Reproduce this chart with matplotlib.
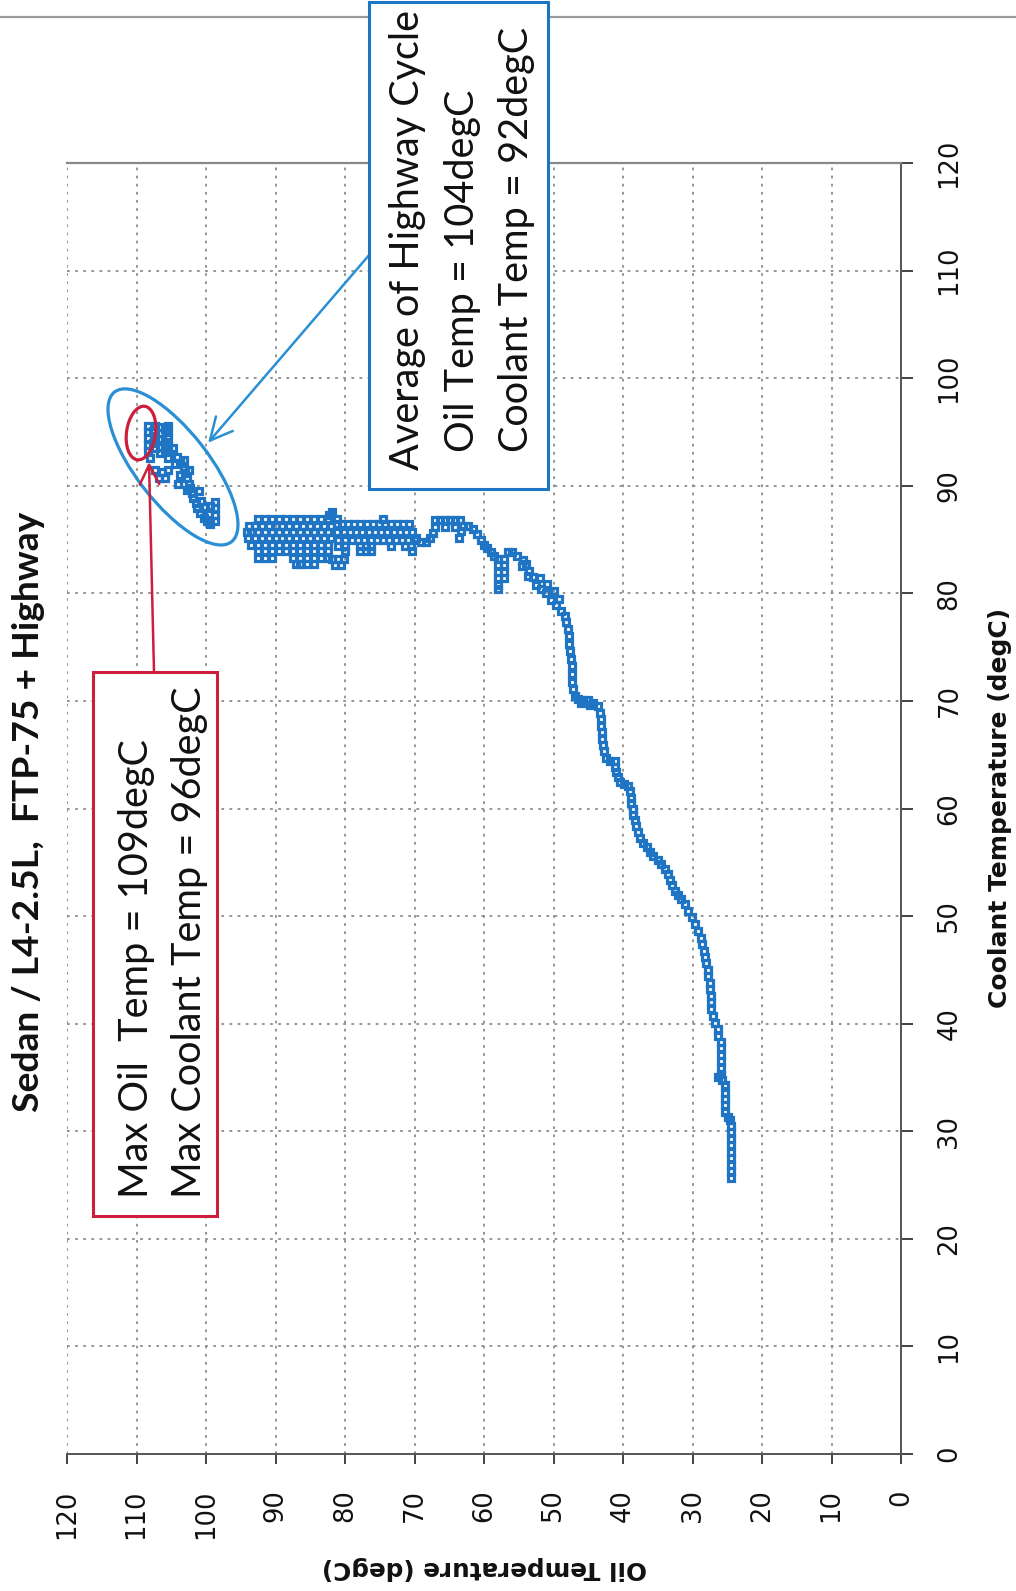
import matplotlib
matplotlib.use("Agg")
import matplotlib.pyplot as plt
from matplotlib.lines import Line2D
from matplotlib.patches import Ellipse, Rectangle
from matplotlib.transforms import ScaledTranslation

W, H, DPI = 1016, 1591, 100

TITLE = "Sedan / L4-2.5L,  FTP-75 + Highway"
X_LABEL = "Oil Temperature (degC)"
Y_LABEL = "Coolant Temperature (degC)"
TICKS = [0, 10, 20, 30, 40, 50, 60, 70, 80, 90, 100, 110, 120]

AVG_LINES = ["Average of Highway Cycle", "Oil Temp = 104degC", "Coolant Temp = 92degC"]
MAX_LINES = ["Max Oil  Temp = 109degC", "Max Coolant Temp = 96degC"]

# (oil, coolant) samples, degC
warmup_pts = [
    (24.4, 25.7), (24.4, 26.3), (24.4, 26.9), (24.4, 27.5), (24.4, 28.1), (24.4, 28.7),
    (24.4, 29.3), (24.4, 29.9), (24.4, 30.5), (24.6, 31.0), (24.9, 31.3), (25.3, 31.8),
    (25.3, 32.4), (25.3, 33.0), (25.3, 33.6), (25.3, 34.3), (25.8, 34.8), (26.3, 35.0),
    (25.9, 35.3), (25.9, 35.9), (25.9, 36.5), (25.9, 37.1), (25.9, 37.7), (25.9, 38.3),
    (26.3, 38.9), (26.3, 39.5), (26.8, 40.1), (27.0, 40.7), (27.3, 41.4), (27.4, 42.0),
    (27.4, 42.6), (27.5, 43.2), (27.5, 43.8), (27.7, 44.4), (27.8, 45.0), (28.0, 45.6),
    (28.2, 46.2), (28.4, 46.8), (28.6, 47.4), (28.8, 48.0), (29.2, 48.6), (29.7, 49.3),
    (30.1, 49.9), (30.6, 50.5), (31.1, 51.1), (31.6, 51.6), (32.1, 52.0), (32.5, 52.3),
    (33.0, 52.9), (33.3, 53.4), (33.5, 53.9), (34.0, 54.4), (34.5, 54.8), (35.0, 55.2),
    (35.7, 55.6), (36.1, 56.0), (36.6, 56.4), (37.1, 56.8), (37.6, 57.3), (37.8, 57.8),
    (38.1, 58.4), (38.3, 58.9), (38.5, 59.4), (38.6, 60.0), (38.8, 60.5), (38.9, 61.0),
    (39.0, 61.6), (39.3, 62.1), (39.8, 62.3), (40.4, 62.5), (40.7, 62.9), (41.0, 63.4),
    (41.2, 63.9), (41.2, 64.4), (41.9, 64.4), (42.4, 64.7), (42.8, 65.3), (42.9, 65.9),
    (43.0, 66.5), (43.0, 67.1), (43.1, 67.7), (43.2, 68.3), (43.3, 68.9), (43.6, 69.5),
    (44.3, 69.8), (44.8, 69.6), (45.0, 70.1), (45.8, 70.1), (46.0, 69.8), (46.5, 70.2),
    (46.9, 70.5), (47.2, 71.1), (47.3, 71.8), (47.3, 72.5), (47.4, 73.2), (47.5, 73.9),
    (47.6, 74.6), (47.7, 75.3), (47.8, 76.0), (47.9, 76.7), (48.2, 77.3), (48.4, 77.9),
    (48.9, 78.4), (49.2, 79.5), (49.6, 78.9), (50.0, 80.2), (50.3, 79.4), (51.1, 80.0),
]

transition_pts = [
    (51.0, 80.9), (51.8, 80.4), (52.0, 81.4), (52.5, 80.8), (53.0, 81.5), (53.6, 81.6),
    (53.5, 82.1), (54.0, 82.7), (54.6, 82.5), (54.4, 83.1), (55.2, 83.5), (55.9, 83.8),
    (56.6, 83.8), (57.1, 83.2), (57.1, 82.6), (57.1, 82.0), (57.1, 81.4), (58.0, 83.2),
    (58.0, 82.6), (58.0, 82.0), (58.0, 81.4), (58.0, 80.8), (58.0, 80.4), (58.5, 83.5),
    (59.0, 83.8), (59.5, 84.2), (60.0, 84.5), (60.4, 85.0), (61.0, 85.5), (61.6, 86.0),
    (62.3, 86.3), (63.0, 86.3), (63.3, 85.8), (63.6, 85.1), (63.5, 86.8), (64.2, 86.8),
    (64.9, 86.8), (65.6, 86.8), (66.3, 86.8), (67.0, 86.8), (64.2, 86.2), (65.6, 86.2),
    (67.0, 86.2), (67.3, 85.6), (67.7, 85.1), (68.4, 84.8), (69.1, 84.8), (69.8, 85.1),
]

band_pts = [
    (70.8, 86.4), (71.7, 86.4), (72.5, 86.4), (73.4, 86.4), (74.3, 86.4), (75.1, 86.4),
    (76.0, 86.4), (76.9, 86.4), (77.8, 86.4), (78.7, 86.4), (79.5, 86.4), (80.4, 86.4),
    (81.2, 86.4),
    (70.3, 85.7), (71.2, 85.7), (72.1, 85.7), (73.0, 85.7), (73.9, 85.7), (74.8, 85.7),
    (75.7, 85.7), (76.6, 85.7), (77.5, 85.7), (78.4, 85.7), (79.3, 85.7), (80.2, 85.7),
    (81.1, 85.7),
    (70.0, 85.0), (70.9, 85.0), (71.8, 85.0), (72.7, 85.0), (73.6, 85.0), (74.5, 85.0),
    (75.4, 85.0), (76.3, 85.0), (77.2, 85.0), (78.1, 85.0), (79.0, 85.0), (80.0, 85.0),
    (81.0, 85.0),
    (70.5, 84.4), (71.4, 84.4), (73.4, 84.4), (76.3, 84.4), (77.0, 84.4), (77.8, 84.4),
    (80.0, 84.4), (81.0, 84.4),
    (70.3, 83.9), (76.2, 83.9), (77.0, 83.9), (77.8, 83.9), (80.0, 83.9),
    (80.2, 83.2), (81.0, 83.2), (81.8, 83.2), (80.6, 82.6), (81.4, 82.6),
    (74.6, 86.9), (81.1, 86.9), (81.8, 87.6), (82.3, 87.3),
]

blob_pts = [
    (82.5, 86.9), (83.5, 86.9), (84.5, 86.9), (85.5, 86.9), (86.5, 86.9), (87.5, 86.9),
    (88.5, 86.9), (89.5, 86.9), (90.5, 86.9), (91.5, 86.9), (92.5, 86.9),
    (82.0, 86.3), (83.0, 86.3), (84.0, 86.3), (85.0, 86.3), (86.0, 86.3), (87.0, 86.3),
    (88.0, 86.3), (89.0, 86.3), (90.0, 86.3), (91.0, 86.3), (92.0, 86.3), (93.0, 86.3),
    (93.8, 86.3),
    (82.5, 85.7), (83.5, 85.7), (84.5, 85.7), (85.5, 85.7), (86.5, 85.7), (87.5, 85.7),
    (88.5, 85.7), (89.5, 85.7), (90.5, 85.7), (91.5, 85.7), (92.5, 85.7), (93.5, 85.7),
    (94.1, 85.7),
    (82.0, 85.1), (83.0, 85.1), (84.0, 85.1), (85.0, 85.1), (86.0, 85.1), (87.0, 85.1),
    (88.0, 85.1), (89.0, 85.1), (90.0, 85.1), (91.0, 85.1), (92.0, 85.1), (93.0, 85.1),
    (94.0, 85.1),
    (82.5, 84.5), (83.5, 84.5), (84.5, 84.5), (85.5, 84.5), (86.5, 84.5), (87.5, 84.5),
    (88.5, 84.5), (89.5, 84.5), (90.5, 84.5), (91.5, 84.5), (92.5, 84.5), (93.5, 84.5),
    (82.5, 83.9), (83.5, 83.9), (84.5, 83.9), (85.5, 83.9), (86.5, 83.9), (87.5, 83.9),
    (88.5, 83.9), (89.5, 83.9), (90.5, 83.9), (91.5, 83.9), (92.5, 83.9),
    (82.5, 83.3), (83.5, 83.3), (84.5, 83.3), (85.5, 83.3), (86.5, 83.3), (87.5, 83.3),
    (90.5, 83.3), (91.5, 83.3), (92.5, 83.3),
    (84.5, 82.7), (85.5, 82.7), (86.5, 82.7), (87.0, 82.7),
]

highway_pts = [
    (108.3, 95.6), (108.3, 95.0), (108.3, 94.4), (108.3, 93.8), (108.3, 93.2), (108.0, 92.6),
    (107.3, 95.6), (107.3, 94.6), (107.3, 93.5), (107.6, 95.1), (107.6, 94.0),
    (106.6, 95.5), (106.6, 94.9), (106.6, 94.3), (106.6, 93.6), (106.6, 93.0),
    (105.9, 95.3), (105.9, 94.1), (105.9, 93.3),
    (105.4, 95.6), (105.4, 95.0), (105.4, 94.4), (105.4, 93.8), (105.4, 93.2), (105.4, 92.6),
    (104.7, 93.5), (104.2, 92.7), (103.7, 92.1), (103.2, 91.6), (103.0, 91.2), (102.7, 90.7),
    (102.5, 90.2), (102.3, 89.8), (102.0, 89.3), (101.8, 88.9), (101.5, 88.4), (101.3, 87.9),
    (100.8, 87.5), (100.3, 87.0), (99.9, 86.7), (99.4, 86.4), (98.7, 86.7), (98.7, 87.3),
    (98.7, 87.9), (98.7, 88.5), (99.4, 88.1), (100.2, 88.0), (99.6, 87.4), (100.7, 88.6),
    (107.3, 91.5), (106.3, 91.3), (105.4, 91.5), (106.8, 90.7), (105.9, 90.7), (103.7, 91.0),
    (102.5, 91.5), (103.2, 92.4), (104.0, 90.2), (101.0, 89.5), (104.4, 92.0), (102.8, 89.6),
]

# annotation anchors (oil, coolant)
max_point = (109.35, 94.9)
avg_center = (104.75, 91.75)
max_arrow_tip = (108.2, 92.2)
avg_arrow_tip = (99.7, 94.0)

BLUE = "#1f74c4"
RING_BLUE = "#2a8fd4"
BOX_BLUE = "#1c77c3"
RED = "#cc1f3c"
GRID = "#8c8c8c"


def fig_xy(px, py):
    """pixel position measured from the top-left corner -> figure fraction"""
    return px / W, 1 - py / H


fig = plt.figure(figsize=(W / DPI, H / DPI), dpi=DPI)
fig.patch.set_facecolor("white")

x0, y0 = fig_xy(67, 1454)
x1, y1 = fig_xy(901, 163)
ax = fig.add_axes([x0, y0, x1 - x0, y1 - y0])
ax.set_xlim(120, 0)
ax.set_ylim(0, 120)

ax.set_xticks(TICKS)
ax.set_yticks(TICKS)
ax.set_xticklabels([str(t) for t in TICKS], rotation=90, va="top", ha="center")
ax.yaxis.tick_right()
ax.set_yticklabels([str(t) for t in TICKS], rotation=90, va="center", ha="left")
ax.tick_params(axis="x", direction="out", length=7, width=1.2, pad=18.5,
               labelsize=18.5, colors="#222222", labelcolor="#111111")
ax.tick_params(axis="y", direction="out", length=8.5, width=1.2, pad=17,
               labelsize=18.5, colors="#222222", labelcolor="#111111")

ax.grid(True, color=GRID, linestyle=(0, (1.5, 3)), linewidth=1.3)
ax.set_axisbelow(True)
ax.spines["left"].set_visible(False)
ax.spines["right"].set_color("#555555")
ax.spines["right"].set_linewidth(1.4)
ax.spines["bottom"].set_color("#555555")
ax.spines["bottom"].set_linewidth(1.4)
ax.spines["top"].set_color("#888888")
ax.spines["top"].set_linewidth(1.6)

for pts in (warmup_pts, transition_pts, band_pts, blob_pts, highway_pts):
    oil = [p[0] for p in pts]
    coolant = [p[1] for p in pts]
    ax.plot(oil, coolant, linestyle="none", marker="s", markersize=5.0,
            markeredgewidth=2.3, markerfacecolor="none", markeredgecolor=BLUE,
            zorder=3)

# rings around the highway cluster and its hottest point
ring = Ellipse((0, 0), 1.90, 0.72, angle=-52, fill=False, edgecolor=RING_BLUE, lw=2.3,
               transform=fig.dpi_scale_trans + ScaledTranslation(*avg_center, ax.transData),
               zorder=4)
ax.add_patch(ring)
ring_max = Ellipse((0, 0), 0.29, 0.54, angle=-8, fill=False, edgecolor=RED, lw=2.3,
                   transform=fig.dpi_scale_trans + ScaledTranslation(*max_point, ax.transData),
                   zorder=5)
ax.add_patch(ring_max)

ax.annotate("", xy=avg_arrow_tip, xycoords="data", xytext=fig_xy(370, 254),
            textcoords="figure fraction",
            arrowprops=dict(arrowstyle="->,head_length=0.8,head_width=0.4",
                            color=RING_BLUE, lw=1.8, mutation_scale=20,
                            shrinkA=0, shrinkB=0), zorder=5)
ax.annotate("", xy=max_arrow_tip, xycoords="data", xytext=fig_xy(154, 672),
            textcoords="figure fraction",
            arrowprops=dict(arrowstyle="->,head_length=0.7,head_width=0.35",
                            color=RED, lw=1.8, mutation_scale=20,
                            shrinkA=0, shrinkB=0), zorder=5)

# page rule across the top
fig.add_artist(Line2D([0, 1], [fig_xy(0, 16.5)[1]] * 2, transform=fig.transFigure,
                      color="#9a9a9a", lw=1.6, zorder=0.5))

# callout boxes
bx0, by0 = fig_xy(369, 489)
bx1, by1 = fig_xy(548, 2)
fig.add_artist(Rectangle((bx0, by0), bx1 - bx0, by1 - by0, transform=fig.transFigure,
                         facecolor="white", edgecolor=BOX_BLUE, lw=2.2, zorder=6))
rx0, ry0 = fig_xy(93, 1216)
rx1, ry1 = fig_xy(217, 672)
fig.add_artist(Rectangle((rx0, ry0), rx1 - rx0, ry1 - ry0, transform=fig.transFigure,
                         facecolor="white", edgecolor=RED, lw=2.2, zorder=6))

box_font = dict(family=["Lato", "DejaVu Sans"], size=28.5, color="#111111",
                rotation=90, rotation_mode="anchor", ha="left", va="baseline", zorder=7)
for text, (bx, by) in zip(AVG_LINES, [(419, 470), (474, 452), (528, 452)]):
    fig.text(*fig_xy(bx, by), text, **box_font)
for text, (bx, by) in zip(MAX_LINES, [(148, 1198), (201, 1198)]):
    fig.text(*fig_xy(bx, by), text, **box_font)

# titles
fig.text(*fig_xy(29, 812), TITLE, rotation=90, ha="center", va="center",
         family=["Lato", "DejaVu Sans"], fontweight="bold", size=26.8, color="#111111")
fig.text(*fig_xy(1000, 808), Y_LABEL, rotation=90, ha="center", va="center",
         fontweight="bold", size=18, color="#111111")
fig.text(*fig_xy(484, 1568), X_LABEL, rotation=180, ha="center", va="center",
         fontweight="bold", size=17.7, color="#111111")

fig.savefig("out.png", dpi=DPI)
